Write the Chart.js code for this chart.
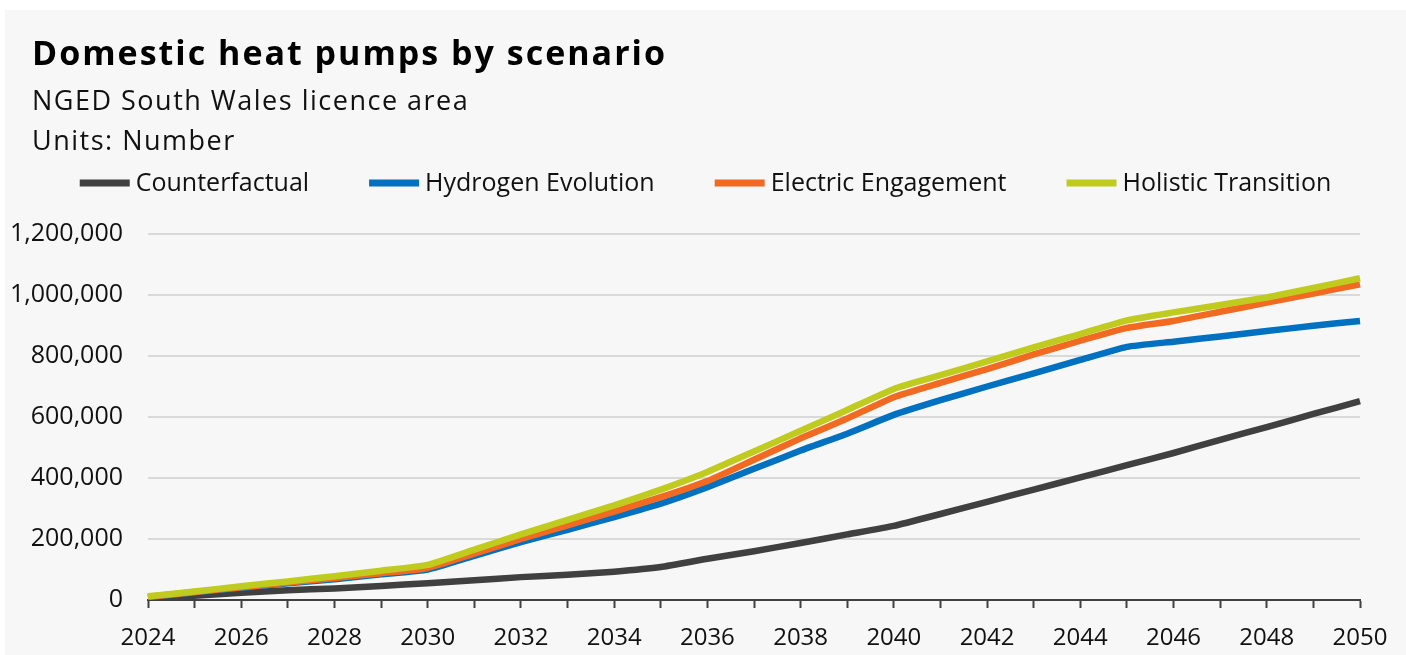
<!DOCTYPE html>
<html>
<head>
<meta charset="utf-8">
<script src="https://cdn.jsdelivr.net/npm/chart.js@4/dist/chart.umd.min.js"></script>
<style>
  html,body{margin:0;padding:0;background:#fff;}
  #box{position:absolute;left:5px;top:10px;width:1401px;height:645px;background:#f7f7f7;}
</style>
</head>
<body>
<div id="box"><canvas id="heatChart" width="1401" height="645"></canvas></div>
<script>
const years = ['2024','2025','2026','2027','2028','2029','2030','2031','2032','2033','2034','2035','2036','2037',
  '2038','2039','2040','2041','2042','2043','2044','2045','2046','2047','2048','2049','2050'];

const counterfactual = [5000,14000,24000,32000,38000,46000,55000,65000,75000,83000,93000,108000,135000,160000,
  187000,215000,243000,282000,322000,362000,402000,442000,482000,525000,567000,610000,652000];
const hydrogen = [10000,25000,40000,55000,68000,84000,100000,145000,190000,230000,272000,316000,370000,430000,
  490000,545000,607000,655000,700000,743000,787000,830000,847000,864000,882000,899000,915000];
const electric = [10000,26000,42000,57000,72000,88000,105000,152000,200000,245000,290000,337000,390000,460000,
  530000,595000,665000,712000,757000,805000,850000,892000,915000,945000,975000,1005000,1035000];
const holistic = [12000,28000,45000,61000,78000,96000,115000,165000,215000,263000,310000,362000,420000,487000,
  555000,623000,692000,737000,782000,828000,872000,917000,943000,967000,992000,1023000,1055000];

const yTicks = [0,200000,400000,600000,800000,1000000,1200000];

const titleText = 'Domestic heat pumps by scenario';
const subLines = ['NGED South Wales licence area','Units: Number'];
const FONT = '"Open Sans", "Liberation Sans", Arial, sans-serif';

// titles + legend drawn by hand so they can sit where the reference has them
const headerPlugin = {
  id:'header',
  afterDraw(chart){
    const ctx = chart.ctx;
    ctx.save();
    ctx.fillStyle = '#000';
    ctx.textBaseline = 'alphabetic';
    ctx.textAlign = 'left';
    ctx.letterSpacing = '2px';
    ctx.font = 'bold 34px ' + FONT;
    ctx.fillText(titleText, 27, 55);
    ctx.fillStyle = '#111';
    ctx.letterSpacing = '1.5px';
    ctx.font = '27px ' + FONT;
    ctx.fillText(subLines[0], 27, 100);
    ctx.fillText(subLines[1], 27, 140);

    // legend
    ctx.letterSpacing = '0px';
    ctx.font = '25px ' + FONT;
    const ds = chart.data.datasets;
    const lineW = 50, gapIn = 6, gapOut = 60;
    let total = 0;
    ds.forEach((d,i) => {
      total += lineW + gapIn + ctx.measureText(d.label).width;
      if (i < ds.length - 1) total += gapOut;
    });
    let x = chart.width / 2 - total / 2;
    const y = 173;
    ds.forEach(d => {
      ctx.fillStyle = d.borderColor;
      ctx.fillRect(x, y - 3.5, lineW, 7);
      x += lineW + gapIn;
      ctx.fillStyle = '#111';
      ctx.textBaseline = 'middle';
      ctx.fillText(d.label, x, y + 1);
      x += ctx.measureText(d.label).width + gapOut;
    });
    ctx.restore();
  }
};

const ctx = document.getElementById('heatChart');
new Chart(ctx,{
  type:'line',
  data:{
    labels:years,
    datasets:[
      {label:'Counterfactual',data:counterfactual,borderColor:'#404040',order:3},
      {label:'Hydrogen Evolution',data:hydrogen,borderColor:'#0070c0',order:2},
      {label:'Electric Engagement',data:electric,borderColor:'#f26a22',order:1},
      {label:'Holistic Transition',data:holistic,borderColor:'#bfcb1f',order:0}
    ]
  },
  options:{
    responsive:false,
    animation:false,
    layout:{padding:{top:224,right:46,bottom:0,left:0}},
    elements:{
      line:{borderWidth:6.5,tension:0.15,borderCapStyle:'butt',borderJoinStyle:'round'},
      point:{radius:0}
    },
    plugins:{legend:{display:false},title:{display:false},tooltip:{enabled:false}},
    scales:{
      x:{
        afterFit:(s)=>{ s.height = 55; },
        grid:{drawOnChartArea:false,drawTicks:true,tickLength:8,tickColor:'#404040',tickWidth:2},
        border:{display:true,color:'#404040',width:2},
        ticks:{
          autoSkip:false,maxRotation:0,padding:16,color:'#111',
          font:{family:FONT,size:24},
          callback:function(v,i){ return i % 2 === 0 ? this.getLabelForValue(v) : ''; }
        }
      },
      y:{
        min:0,max:1200000,
        afterBuildTicks:(s)=>{ s.ticks = yTicks.map(v=>({value:v})); },
        afterFit:(s)=>{ s.width = 143; },
        grid:{color:'#d9d9d9',lineWidth:2,drawTicks:false},
        border:{display:false},
        ticks:{
          padding:25,color:'#111',
          font:{family:FONT,size:25},
          callback:(v)=>v.toLocaleString('en-GB')
        }
      }
    }
  },
  plugins:[headerPlugin]
});
</script>
</body>
</html>
